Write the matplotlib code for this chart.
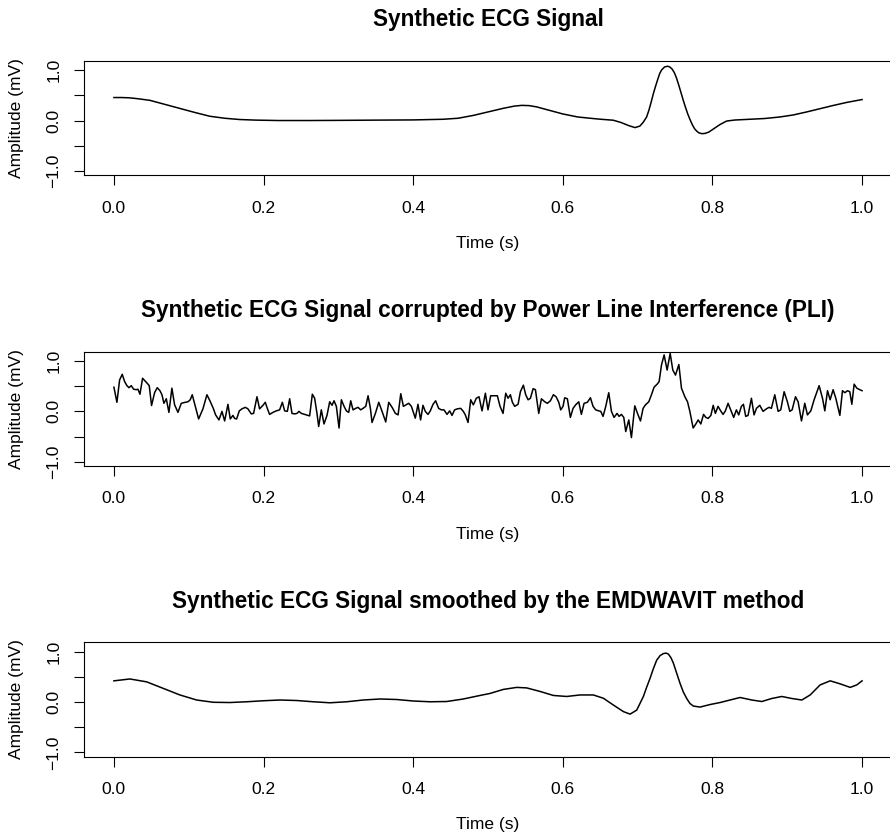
import numpy as np
import matplotlib
matplotlib.use("Agg")
import matplotlib.pyplot as plt

plt.rcParams['font.family'] = ['Liberation Sans', 'DejaVu Sans']

# clean ECG
t_clean = [0.0, 0.01, 0.02, 0.03, 0.048, 0.068, 0.088, 0.108, 0.128, 0.148, 0.168, 0.19,
           0.22, 0.26, 0.30, 0.35, 0.40, 0.44, 0.46, 0.48, 0.50, 0.52, 0.535, 0.545, 0.555,
           0.565, 0.58, 0.60, 0.62, 0.64, 0.65, 0.6675, 0.678, 0.688, 0.6965, 0.703, 0.7077,
           0.712, 0.715, 0.718, 0.721, 0.724, 0.727, 0.7295, 0.732, 0.736, 0.740, 0.743,
           0.746, 0.749, 0.752, 0.755, 0.758, 0.761, 0.764, 0.767, 0.770, 0.773, 0.776,
           0.779, 0.782, 0.786, 0.790, 0.795, 0.801, 0.81, 0.819, 0.83, 0.85, 0.87, 0.89,
           0.908, 0.926, 0.944, 0.962, 0.98, 1.0]
v_clean = [0.455, 0.455, 0.45, 0.435, 0.40, 0.32, 0.24, 0.16, 0.085, 0.045, 0.02, 0.008,
           0.0, 0.0, 0.003, 0.008, 0.012, 0.025, 0.045, 0.10, 0.17, 0.24, 0.285, 0.30, 0.295,
           0.27, 0.21, 0.13, 0.07, 0.04, 0.026, 0.006, -0.04, -0.10, -0.14, -0.11, -0.03,
           0.07, 0.2, 0.36, 0.53, 0.68, 0.82, 0.93, 1.0, 1.06, 1.075, 1.06,
           1.02, 0.95, 0.84, 0.70, 0.55, 0.40, 0.26, 0.13, 0.02, -0.08, -0.16,
           -0.21, -0.245, -0.26, -0.255, -0.23, -0.17, -0.08, -0.01, 0.01, 0.025, 0.04, 0.07,
           0.11, 0.17, 0.235, 0.30, 0.36, 0.415]

# ECG with power line interference
t_noisy = [0.0, 0.004, 0.0076, 0.0111, 0.0143, 0.0174, 0.0201, 0.0232, 0.0263, 0.0299, 0.0321,
           0.0348, 0.0383, 0.0419, 0.0455, 0.0472, 0.0503, 0.0544, 0.0579, 0.0615, 0.0642,
           0.0668, 0.0700, 0.0735, 0.0775, 0.0811, 0.0856, 0.0900, 0.0954, 0.0989, 0.1020,
           0.1047, 0.1087, 0.1132, 0.1190, 0.1243, 0.1283, 0.1328, 0.1359, 0.1404, 0.1444,
           0.1480, 0.1524, 0.1555, 0.1591, 0.1613, 0.1640, 0.1676, 0.1711, 0.1756, 0.1791,
           0.1836, 0.1867, 0.1912, 0.1947, 0.1992, 0.2023, 0.205, 0.2081, 0.2126, 0.2170,
           0.2215, 0.2251, 0.2282, 0.2318, 0.2349, 0.2380, 0.2416, 0.2447, 0.2474, 0.2505,
           0.2549, 0.2616, 0.2652, 0.2683, 0.2714, 0.2737, 0.2772, 0.2808, 0.2848, 0.2884,
           0.2915, 0.2942, 0.2973, 0.3009, 0.3040, 0.3076, 0.3107, 0.3138, 0.3165, 0.3196,
           0.3232, 0.3263, 0.3299, 0.3330, 0.3366, 0.3397, 0.3428, 0.3450, 0.3495, 0.3540,
           0.3584, 0.3633, 0.3673, 0.3718, 0.3762, 0.3798, 0.3834, 0.3869, 0.3905, 0.3940,
           0.3976, 0.4028, 0.4064, 0.4099, 0.4131, 0.4162, 0.4198, 0.4229, 0.4265, 0.4300,
           0.4340, 0.4376, 0.4412, 0.4452, 0.4488, 0.4519, 0.4554, 0.4590, 0.4635, 0.4670,
           0.4697, 0.4733, 0.4769, 0.4804, 0.4844, 0.4880, 0.4920, 0.4965, 0.5000, 0.5036,
           0.5081, 0.5125, 0.5161, 0.5201, 0.5237, 0.5268, 0.5299, 0.5326, 0.5357, 0.5402,
           0.5433, 0.5473, 0.5504, 0.5536, 0.5567, 0.5603, 0.5634, 0.5678, 0.5714, 0.5759,
           0.5794, 0.5834, 0.5874, 0.5910, 0.5946, 0.5972, 0.6003, 0.6025, 0.6061, 0.6101,
           0.6137, 0.6172, 0.6213, 0.6248, 0.6284, 0.6328, 0.6369, 0.6404, 0.6440, 0.6480,
           0.6507, 0.6538, 0.6574, 0.6614, 0.6650, 0.6685, 0.6725, 0.6752, 0.6783, 0.6815,
           0.6841, 0.6882, 0.6917, 0.6962, 0.6998, 0.7038, 0.7073, 0.7105, 0.7149, 0.7185,
           0.7220, 0.7261, 0.7287, 0.7319, 0.7354, 0.7394, 0.7435, 0.7470, 0.7506, 0.7551,
           0.7586, 0.7631, 0.7667, 0.7698, 0.7742, 0.7778, 0.7809, 0.7845, 0.7881, 0.7912,
           0.7943, 0.7979, 0.8010, 0.8039, 0.8075, 0.8110, 0.8142, 0.8173, 0.8209, 0.8244,
           0.8284, 0.8320, 0.8351, 0.8387, 0.8414, 0.8445, 0.8476, 0.8521, 0.8556, 0.8588,
           0.8632, 0.8677, 0.8721, 0.8757, 0.8788, 0.8833, 0.8878, 0.8913, 0.8958, 0.9002,
           0.9034, 0.9065, 0.9110, 0.9145, 0.9190, 0.9234, 0.9270, 0.9315, 0.9359, 0.9426,
           0.9471, 0.9502, 0.9538, 0.9573, 0.9613, 0.9649, 0.9703, 0.9738, 0.9770, 0.9805,
           0.9836, 0.9863, 0.9894, 0.9930, 0.9970, 1.0]
v_noisy = [0.479, 0.18, 0.624, 0.736, 0.59, 0.51, 0.47, 0.51, 0.44, 0.43, 0.44,
           0.34, 0.657, 0.60, 0.54, 0.51, 0.116, 0.373, 0.47, 0.41, 0.33,
           0.16, 0.25, -0.02, 0.46, 0.13, -0.02, 0.16, 0.18, 0.19, 0.23,
           0.33, 0.10, -0.15, 0.05, 0.33, 0.21, 0.06, -0.07, -0.17, 0.0,
           -0.19, 0.14, -0.15, -0.08, -0.14, -0.15, 0.01, 0.05, 0.08, 0.05,
           -0.05, -0.04, 0.29, 0.05, 0.12, 0.18, 0.06, -0.06, -0.02, 0.01,
           0.03, 0.18, 0.01, 0.0, 0.25, -0.04, -0.05, -0.04, 0.0, -0.04,
           -0.06, -0.09, 0.34, 0.26, -0.04, -0.30, 0.03, -0.25, -0.08, 0.19,
           0.12, 0.21, 0.10, -0.33, 0.23, 0.10, 0.01, -0.02, 0.21, 0.03,
           0.06, 0.08, 0.03, 0.06, 0.10, 0.31, 0.06, -0.22, -0.04, 0.18,
           0.0, -0.21, 0.18, 0.08, -0.04, -0.07, 0.35, 0.10, 0.13, 0.16,
           0.10, -0.135, 0.14, -0.17, 0.12, 0.0, -0.06, 0.01, 0.14, 0.21,
           0.06, 0.03, 0.03, -0.06, 0.01, -0.08, 0.03, 0.05, 0.06, 0.0,
           -0.07, -0.22, 0.23, 0.13, 0.26, 0.29, 0.01, 0.36, 0.03, 0.31,
           0.31, 0.31, 0.10, -0.04, 0.36, 0.26, 0.33, 0.18, 0.10, 0.14,
           0.39, 0.52, 0.33, 0.23, 0.26, 0.45, 0.43, -0.04, 0.25, 0.19,
           0.16, 0.21, 0.33, 0.29, 0.18, 0.03, 0.10, 0.27, 0.25, -0.12,
           0.06, 0.13, 0.19, -0.06, 0.16, 0.18, 0.27, 0.10, 0.03, 0.01,
           0.0, -0.10, 0.10, 0.37, 0.0, -0.12, -0.04, -0.10, -0.06, -0.12,
           -0.40, -0.17, -0.52, 0.11, -0.04, -0.19, 0.06, 0.13, 0.19, 0.33,
           0.48, 0.54, 0.59, 0.92, 1.12, 0.82, 1.15, 0.82, 0.72, 0.93,
           0.46, 0.29, 0.19, 0.0, -0.33, -0.25, -0.17, -0.25, -0.06, -0.12,
           -0.14, -0.08, 0.12, -0.04, 0.10, 0.01, -0.06, 0.01, 0.16, 0.03,
           -0.12, 0.03, -0.07, 0.10, 0.14, -0.10, -0.08, 0.26, -0.07, 0.06,
           0.12, 0.0, 0.05, 0.08, 0.06, 0.33, 0.0, 0.03, 0.39, 0.19,
           0.0, 0.03, 0.29, 0.19, -0.19, 0.16, -0.07, 0.01, 0.23, 0.51,
           0.26, 0.01, 0.41, 0.23, 0.43, 0.26, -0.08, 0.41, 0.37, 0.41,
           0.39, 0.14, 0.54, 0.46, 0.43, 0.41]

# EMDWAVIT smoothed
t_smooth = [0.0, 0.0214, 0.0437, 0.066, 0.0882, 0.1105, 0.1328, 0.155, 0.1773, 0.1996,
            0.2219, 0.2442, 0.2665, 0.2888, 0.3111, 0.3333, 0.3556, 0.3779, 0.4002, 0.4225,
            0.4447, 0.467, 0.4893, 0.5027, 0.5205, 0.5384, 0.5517, 0.5695, 0.5874, 0.6052,
            0.6230, 0.6408, 0.6542, 0.6676, 0.681, 0.6899, 0.6988, 0.7077, 0.712, 0.7166,
            0.721, 0.7255, 0.730, 0.7344, 0.738, 0.7411, 0.7445, 0.7478, 0.752, 0.7567,
            0.761, 0.7656, 0.770, 0.7745, 0.7834, 0.7968, 0.8102, 0.8235,
            0.8369, 0.8526, 0.8659, 0.8793, 0.8927, 0.9061, 0.9195, 0.9306, 0.9440, 0.9574,
            0.9707, 0.9841, 0.9930, 1.0]
v_smooth = [0.42, 0.457, 0.40, 0.27, 0.14, 0.04, -0.005, -0.01, 0.005, 0.025,
            0.04, 0.03, 0.005, -0.015, 0.005, 0.04, 0.06, 0.05, 0.02, 0.005,
            0.01, 0.06, 0.13, 0.17, 0.25, 0.29, 0.28, 0.21, 0.13, 0.11,
            0.14, 0.14, 0.075, -0.06, -0.19, -0.24, -0.16, 0.11, 0.29, 0.47,
            0.66, 0.83, 0.92, 0.96, 0.97, 0.95, 0.88, 0.77, 0.58, 0.37,
            0.20, 0.07, -0.03, -0.08, -0.10, -0.05, -0.01, 0.04,
            0.09, 0.04, 0.01, 0.07, 0.11, 0.07, 0.04, 0.14, 0.34, 0.42,
            0.36, 0.29, 0.34, 0.42]

titles = ['Synthetic ECG Signal',
          'Synthetic ECG Signal corrupted by Power Line Interference (PLI)',
          'Synthetic ECG Signal smoothed by the EMDWAVIT method']
series = [(t_clean, v_clean), (t_noisy, v_noisy), (t_smooth, v_smooth)]

W, H = 890, 838
fig = plt.figure(figsize=(8.9, 8.38), dpi=100)

# axes boxes in pixels (top, bottom)
boxes = [(60.7, 175.3), (351.7, 466.0), (642.3, 756.7)]
left_px, right_px = 84, 892

for (top, bot), (t, v), title in zip(boxes, series, titles):
    ax = fig.add_axes([left_px / W, 1 - bot / H, (right_px - left_px) / W, (bot - top) / H])
    ax.plot(t, v, color='black', lw=1.1, solid_joinstyle='round')
    ax.set_xlim(-0.04, 1.04)
    ax.set_ylim(-1.084, 1.184)
    ax.set_xticks([0.0, 0.2, 0.4, 0.6, 0.8, 1.0])
    ax.set_xticklabels(['0.0', '0.2', '0.4', '0.6', '0.8', '1.0'])
    ax.set_yticks([-1.0, -0.5, 0.0, 0.5, 1.0])
    ax.set_yticklabels(['\u22121.0', '', '0.0', '', '1.0'], rotation=90, va='center')
    ax.tick_params(direction='out', length=7.2, width=0.8, labelsize=12.5, colors='black')
    ax.tick_params(axis='x', pad=11)
    ax.tick_params(axis='y', pad=9)
    for s in ax.spines.values():
        s.set_linewidth(0.8)
    cx = (left_px + right_px) / 2 / W
    fig.text(cx, 1 - (top - 41) / H, title, ha='center', va='center',
             fontsize=16.3, fontweight='bold')
    fig.text(cx, 1 - (bot + 68) / H, 'Time (s)', ha='center', va='center', fontsize=12.5)
    fig.text(17 / W, 1 - (top + bot) / 2 / H, 'Amplitude (mV)', rotation=90,
             ha='center', va='center', fontsize=12.5)

fig.savefig('out.png', dpi=100)
